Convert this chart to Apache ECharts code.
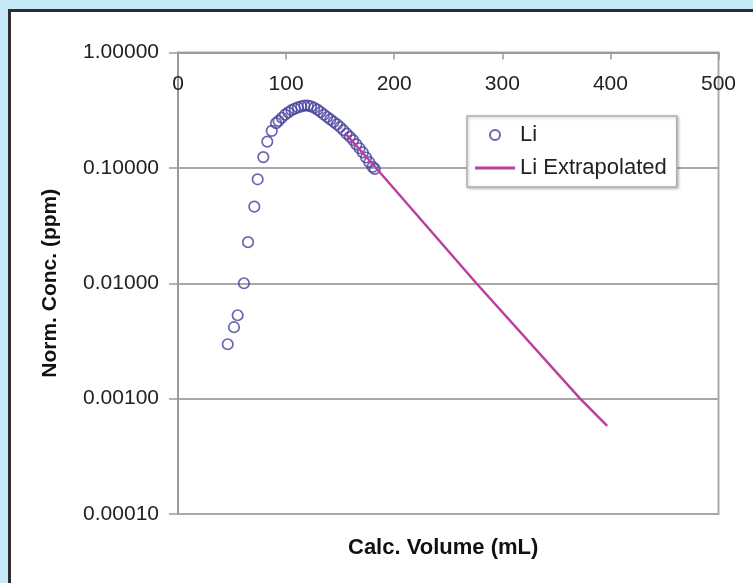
<!DOCTYPE html>
<html>
<head>
<meta charset="utf-8">
<script src="https://cdn.jsdelivr.net/npm/echarts@6/dist/echarts.min.js"></script>
<style>
html,body{margin:0;padding:0;width:753px;height:583px;overflow:hidden;background:#c6e9f8;}
#panel{position:absolute;left:8px;top:9px;width:760px;height:600px;background:#fff;border-left:3px solid #2e2e2e;border-top:3px solid #2e2e2e;}
#chart{position:absolute;left:0;top:0;width:753px;height:583px;}
</style>
</head>
<body>
<div id="panel"></div>
<div id="chart"></div>
<script>
// Li measured (Calc. Volume mL, Norm. Conc. ppm)
const liVolume = [46, 51.8, 55.2, 61, 64.8, 70.6, 73.7, 78.9, 82.6, 86.7, 90.7,
  93, 96, 99, 102, 105, 108, 111, 114, 117, 120, 123, 126, 129, 132, 135, 138,
  141, 144, 147, 150, 153, 156, 159, 162, 165, 168, 171, 174, 177, 180, 182];
const liConc = [0.00296, 0.00416, 0.00528, 0.0100, 0.0227, 0.0461, 0.0796, 0.124, 0.169, 0.209, 0.244,
  0.255, 0.272, 0.289, 0.303, 0.316, 0.326, 0.334, 0.341, 0.347, 0.346, 0.341, 0.332, 0.320, 0.305, 0.290, 0.276,
  0.263, 0.250, 0.238, 0.226, 0.212, 0.198, 0.186, 0.174, 0.160, 0.148, 0.136, 0.123, 0.112, 0.102, 0.098];
// Li Extrapolated
const extVolume = [154.5, 180, 276, 372, 397];
const extConc = [0.200, 0.108, 0.0100, 0.00100, 0.00058];
// axis ticks
const xTicks = [0, 100, 200, 300, 400, 500];
const yTicks = [0.0001, 0.001, 0.01, 0.1, 1];

const chart = echarts.init(document.getElementById('chart'), null, {renderer: 'canvas'});
const FONT = '"Liberation Sans", Arial, sans-serif';
const LINE_COLOR = '#bc3fa0';
const option = {
  backgroundColor: 'transparent',
  animation: false,
  textStyle: {fontFamily: FONT},
  grid: {left: 178, top: 52.5, right: 34.5, bottom: 69, show: true, borderColor: '#ababab', borderWidth: 2, backgroundColor: 'transparent'},
  legend: {
    orient: 'vertical', left: 467, top: 116,
    padding: [8, 10, 8, 8], itemGap: 11, itemWidth: 40, itemHeight: 10,
    backgroundColor: '#fff', borderColor: '#b0b0b0', borderWidth: 1.5,
    shadowColor: 'rgba(0,0,0,0.25)', shadowBlur: 3, shadowOffsetX: 1, shadowOffsetY: 1,
    textStyle: {fontSize: 22, lineHeight: 21, color: '#222', fontFamily: FONT},
    data: [
      {name: 'Li'},
      {name: 'Li Extrapolated', icon: 'path://M0,0L40,0L40,3L0,3Z', itemStyle: {color: LINE_COLOR, borderWidth: 0}}
    ]
  },
  xAxis: {
    type: 'value', position: 'top', min: xTicks[0], max: xTicks[xTicks.length - 1], interval: 100,
    axisLine: {show: true, lineStyle: {color: '#9a9a9a', width: 2}},
    axisTick: {show: true, inside: true, length: 7, lineStyle: {color: '#9a9a9a', width: 1.5}},
    axisLabel: {inside: true, margin: 21, fontSize: 21, color: '#222', fontFamily: FONT, showMinLabel: true, showMaxLabel: true},
    splitLine: {show: false}
  },
  yAxis: {
    type: 'log', logBase: 10, min: yTicks[0], max: yTicks[yTicks.length - 1],
    name: 'Norm. Conc. (ppm)', nameLocation: 'middle', nameRotate: 90, nameGap: 117,
    nameTextStyle: {fontSize: 21, fontWeight: 'bold', color: '#111', fontFamily: FONT},
    axisLine: {show: true, lineStyle: {color: '#9a9a9a', width: 2}},
    axisTick: {show: true, length: 9, lineStyle: {color: '#9a9a9a', width: 1.5}},
    axisLabel: {margin: 19, fontSize: 21, color: '#222', fontFamily: FONT, formatter: v => Number(v).toFixed(5)},
    splitLine: {show: true, lineStyle: {color: '#a8a8a8', width: 2}},
    minorTick: {show: false}, minorSplitLine: {show: false}
  },
  graphic: [{
    type: 'text', left: 448 - 100, top: 537, z: 10,
    style: {text: 'Calc. Volume (mL)', x: 0, y: 0, width: 200, align: 'center', font: 'bold 22px ' + FONT, fill: '#111'}
  }],
  series: [
    {
      name: 'Li', type: 'scatter', symbol: 'circle', symbolSize: 10.5,
      itemStyle: {color: 'rgba(255,255,255,0)', borderColor: '#45419c', borderWidth: 1.7},
      data: liVolume.map((v, i) => [v, liConc[i]]), z: 2
    },
    {
      name: 'Li Extrapolated', type: 'line', symbol: 'none', showSymbol: false,
      lineStyle: {color: LINE_COLOR, width: 2.5}, itemStyle: {color: LINE_COLOR},
      data: extVolume.map((v, i) => [v, extConc[i]]), z: 3
    }
  ]
};
chart.setOption(option);
</script>
</body>
</html>
